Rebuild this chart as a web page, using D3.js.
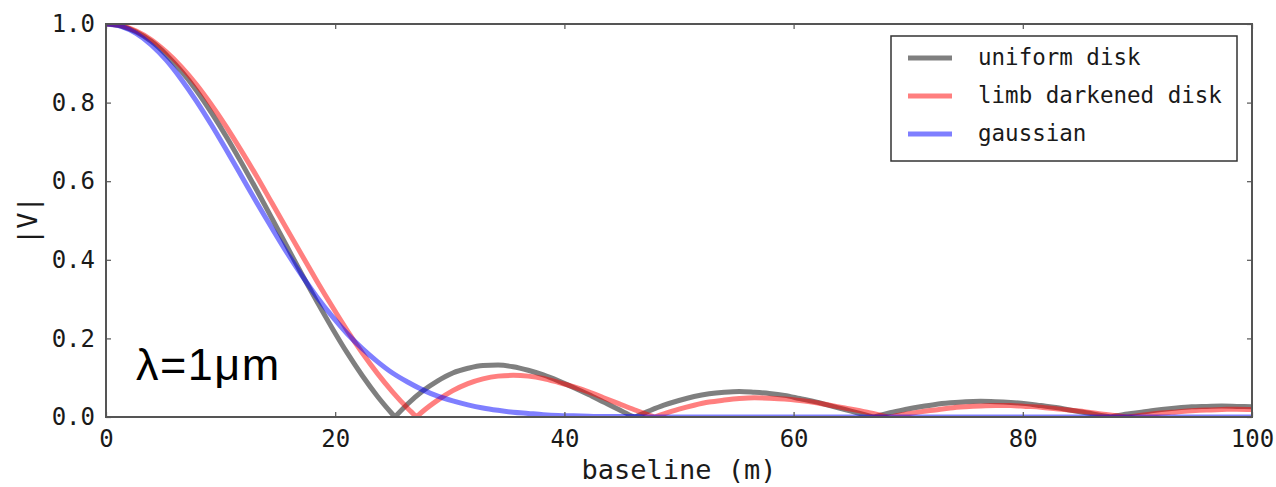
<!DOCTYPE html>
<html>
<head>
<meta charset="utf-8">
<script src="https://cdn.jsdelivr.net/npm/d3@7"></script>
<style>
  html, body { margin: 0; padding: 0; background: #fff; }
  svg { display: block; }
</style>
</head>
<body>
<svg id="chart" width="1276" height="487"></svg>
<script>
// Visibility amplitude |V| against baseline (m) at a wavelength of 1 micron.
const baseline = [
  0, 1.32, 2.63, 3.95, 5.26, 6.58, 7.89, 9.21, 10.53, 11.84,
  13.16, 14.47, 15.79, 17.11, 18.42, 19.74, 21.05, 22.37, 23.68, 25.00,
  26.32, 27.63, 28.95, 30.26, 31.58, 32.89, 34.21, 35.53, 36.84, 38.16,
  39.47, 40.79, 42.11, 43.42, 44.74, 46.05, 47.37, 48.68, 50.00, 51.32,
  52.63, 53.95, 55.26, 56.58, 57.89, 59.21, 60.53, 61.84, 63.16, 64.47,
  65.79, 67.11, 68.42, 69.74, 71.05, 72.37, 73.68, 75.00, 76.32, 77.63,
  78.95, 80.26, 81.58, 82.89, 84.21, 85.53, 86.84, 88.16, 89.47, 90.79,
  92.11, 93.42, 94.74, 96.05, 97.37, 98.68, 100.00
];

const uniformDisk = [
  1.000, 0.995, 0.980, 0.956, 0.922, 0.880, 0.831, 0.774, 0.712, 0.646,
  0.577, 0.506, 0.434, 0.362, 0.293, 0.226, 0.163, 0.105, 0.053, 0.007,
  0.033, 0.066, 0.092, 0.112, 0.124, 0.131, 0.132, 0.128, 0.119, 0.107,
  0.092, 0.075, 0.057, 0.038, 0.019, 0.001, 0.015, 0.030, 0.042, 0.052,
  0.059, 0.063, 0.065, 0.063, 0.060, 0.055, 0.047, 0.039, 0.029, 0.019,
  0.009, 0.001, 0.011, 0.019, 0.026, 0.032, 0.036, 0.039, 0.040, 0.039,
  0.037, 0.034, 0.029, 0.024, 0.017, 0.011, 0.004, 0.003, 0.009, 0.014,
  0.019, 0.023, 0.026, 0.027, 0.028, 0.027, 0.026
];

const limbDarkenedDisk = [
  1.000, 0.996, 0.982, 0.960, 0.929, 0.891, 0.846, 0.794, 0.737, 0.676,
  0.612, 0.545, 0.478, 0.411, 0.345, 0.281, 0.220, 0.163, 0.111, 0.064,
  0.022, 0.014, 0.043, 0.067, 0.085, 0.097, 0.104, 0.106, 0.104, 0.098,
  0.088, 0.077, 0.064, 0.049, 0.034, 0.019, 0.005, 0.008, 0.020, 0.030,
  0.038, 0.043, 0.047, 0.049, 0.048, 0.046, 0.042, 0.037, 0.030, 0.023,
  0.016, 0.008, 0.000, 0.007, 0.013, 0.018, 0.023, 0.026, 0.028, 0.029,
  0.029, 0.027, 0.025, 0.021, 0.017, 0.013, 0.008, 0.003, 0.001, 0.006,
  0.010, 0.013, 0.016, 0.018, 0.019, 0.020, 0.019
];

const gaussian = [
  1.000, 0.994, 0.976, 0.947, 0.908, 0.859, 0.804, 0.743, 0.678, 0.612,
  0.545, 0.481, 0.418, 0.359, 0.305, 0.256, 0.212, 0.174, 0.141, 0.112,
  0.089, 0.069, 0.053, 0.041, 0.031, 0.023, 0.017, 0.012, 0.009, 0.006,
  0.004, 0.003, 0.002, 0.001, 0.001, 0.001, 0, 0, 0, 0,
  0, 0, 0, 0, 0, 0, 0, 0, 0, 0,
  0, 0, 0, 0, 0, 0, 0, 0, 0, 0,
  0, 0, 0, 0, 0, 0, 0, 0, 0, 0,
  0, 0, 0, 0, 0, 0, 0
];

// Baselines where the visibility drops to zero (cusps of |V|)
const uniformDiskNulls = [25.21, 46.16, 66.93, 87.66];
const limbDarkenedNulls = [27.09, 47.87, 68.49, 89.11];
const gaussianNulls = [];

const seriesNames = ["uniform disk", "limb darkened disk", "gaussian"];
const xTickValues = [0, 20, 40, 60, 80, 100];
const xTickLabels = ["0", "20", "40", "60", "80", "100"];
const yTickValues = [0, 0.2, 0.4, 0.6, 0.8, 1.0];
const yTickLabels = ["0.0", "0.2", "0.4", "0.6", "0.8", "1.0"];

const series = [
  { name: seriesNames[0], values: uniformDisk, nulls: uniformDiskNulls, color: "#000000" },
  { name: seriesNames[1], values: limbDarkenedDisk, nulls: limbDarkenedNulls, color: "#ff0000" },
  { name: seriesNames[2], values: gaussian, nulls: gaussianNulls, color: "#0000ff" }
];

const svg = d3.select("#chart");
const plot = { left: 106, top: 24, right: 1252, bottom: 417 };
const monoFont = "'DejaVu Sans Mono', 'Liberation Mono', monospace";
const frameColor = "#555555";
const textColor = "#1a1a1a";
const lineWidth = 5;

const x = d3.scaleLinear().domain([0, 100]).range([plot.left, plot.right]);
const y = d3.scaleLinear().domain([0, 1]).range([plot.bottom, plot.top]);

svg.append("defs").append("clipPath").attr("id", "plot-clip")
  .append("rect")
  .attr("x", plot.left).attr("y", plot.top)
  .attr("width", plot.right - plot.left).attr("height", plot.bottom - plot.top);

// Split a curve into lobes at its zeros so each null stays a sharp cusp
function lobes(s) {
  const pts = baseline.map((b, i) => ({ b, v: s.values[i], isNull: false }))
    .concat(s.nulls.map(b => ({ b, v: 0, isNull: true })))
    .sort((a, c) => a.b - c.b);
  const parts = [];
  let cur = [];
  pts.forEach(p => {
    cur.push(p);
    if (p.isNull) { parts.push(cur); cur = [p]; }
  });
  if (cur.length > 1) parts.push(cur);
  return parts;
}

const line = d3.line()
  .x(d => x(d.b))
  .y(d => y(d.v))
  .curve(d3.curveMonotoneX);

const curves = svg.append("g").attr("clip-path", "url(#plot-clip)");
series.forEach(s => {
  const d = lobes(s).map(part => line(part)).join("");
  curves.append("path")
    .attr("d", d)
    .attr("fill", "none")
    .attr("stroke", s.color)
    .attr("stroke-opacity", 0.5)
    .attr("stroke-width", lineWidth)
    .attr("stroke-linejoin", "round");
});

// Axes frame with inward ticks on all four sides
const xAxisBottom = d3.axisBottom(x).tickValues(xTickValues).tickFormat((d, i) => xTickLabels[i])
  .tickSizeInner(-5).tickSizeOuter(0).tickPadding(13);
const xAxisTop = d3.axisTop(x).tickValues(xTickValues).tickFormat("")
  .tickSizeInner(-5).tickSizeOuter(0);
const yAxisLeft = d3.axisLeft(y).tickValues(yTickValues).tickFormat((d, i) => yTickLabels[i])
  .tickSizeInner(-5).tickSizeOuter(0).tickPadding(11);
const yAxisRight = d3.axisRight(y).tickValues(yTickValues).tickFormat("")
  .tickSizeInner(-5).tickSizeOuter(0);

function styleAxis(g) {
  g.select(".domain").remove();
  g.selectAll(".tick line").attr("stroke", frameColor).attr("stroke-width", 1.2);
  g.selectAll(".tick text")
    .attr("font-family", monoFont)
    .attr("font-size", 24)
    .attr("fill", textColor);
}

svg.append("g").attr("transform", `translate(0,${plot.bottom})`).call(xAxisBottom).call(styleAxis);
svg.append("g").attr("transform", `translate(0,${plot.top})`).call(xAxisTop).call(styleAxis);
svg.append("g").attr("transform", `translate(${plot.left},0)`).call(yAxisLeft).call(styleAxis);
svg.append("g").attr("transform", `translate(${plot.right},0)`).call(yAxisRight).call(styleAxis);

svg.append("rect")
  .attr("x", plot.left).attr("y", plot.top)
  .attr("width", plot.right - plot.left).attr("height", plot.bottom - plot.top)
  .attr("fill", "none").attr("stroke", frameColor).attr("stroke-width", 2);

// Axis titles
svg.append("text")
  .attr("x", (plot.left + plot.right) / 2).attr("y", 479)
  .attr("text-anchor", "middle")
  .attr("font-family", monoFont).attr("font-size", 27).attr("fill", textColor)
  .text("baseline (m)");

svg.append("text")
  .attr("transform", `translate(37,${(plot.top + plot.bottom) / 2}) rotate(-90)`)
  .attr("text-anchor", "middle")
  .attr("font-family", monoFont).attr("font-size", 27).attr("fill", textColor)
  .text("|V|");

// Wavelength annotation
svg.append("text")
  .attr("x", 136).attr("y", 380)
  .attr("font-family", "'Liberation Sans', Arial, sans-serif")
  .attr("font-size", 45).attr("letter-spacing", 1.5).attr("fill", "#000")
  .text("λ=1μm");

// Legend
const legend = svg.append("g");
legend.append("rect")
  .attr("x", 891).attr("y", 36).attr("width", 346).attr("height", 125)
  .attr("fill", "#fff").attr("stroke", "#333").attr("stroke-width", 1.5);
series.forEach((s, i) => {
  const ly = 58 + i * 38;
  legend.append("line")
    .attr("x1", 908).attr("x2", 952).attr("y1", ly).attr("y2", ly)
    .attr("stroke", s.color).attr("stroke-opacity", 0.5).attr("stroke-width", lineWidth);
  legend.append("text")
    .attr("x", 978).attr("y", ly).attr("dy", "0.32em")
    .attr("font-family", monoFont).attr("font-size", 22.5).attr("fill", textColor)
    .text(s.name);
});
</script>
</body>
</html>
